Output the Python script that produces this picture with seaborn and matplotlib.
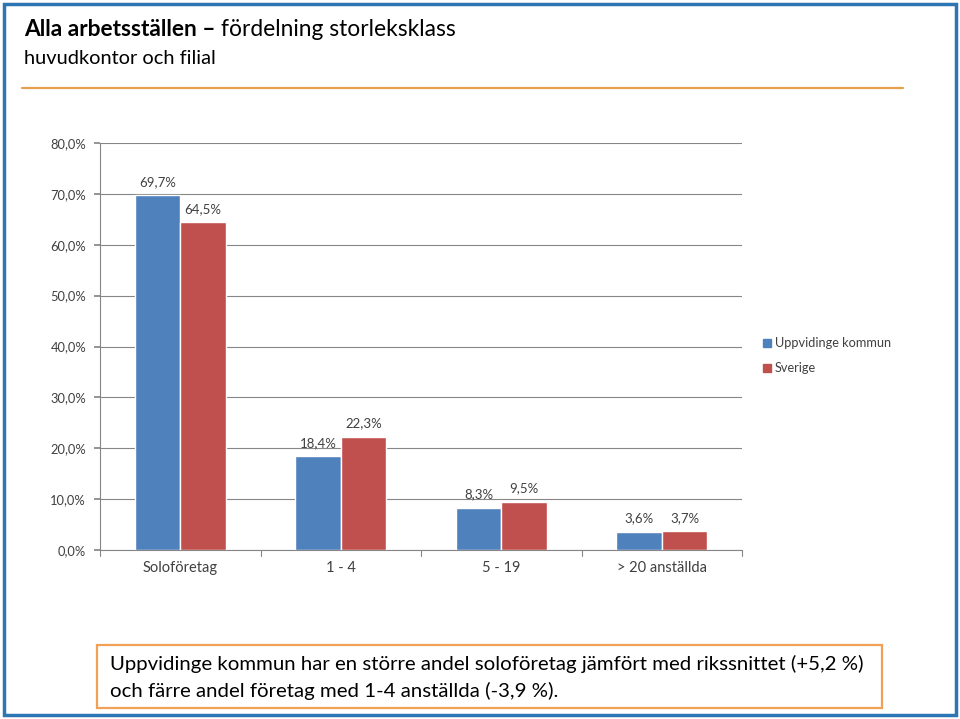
import matplotlib
matplotlib.use("Agg")
import matplotlib.pyplot as plt
import seaborn as sns
import pandas as pd
from matplotlib.patches import Rectangle
from matplotlib.lines import Line2D

categories = ["Soloföretag", "1 - 4", "5 - 19", "> 20 anställda"]
series_names = ["Uppvidinge kommun", "Sverige"]
uppvidinge = [69.7, 18.4, 8.3, 3.6]
sverige = [64.5, 22.3, 9.5, 3.7]
yticks = [0, 10, 20, 30, 40, 50, 60, 70, 80]
colors = ["#4F81BD", "#C0504D"]

df = pd.DataFrame({
    "kategori": categories * 2,
    "serie": [series_names[0]] * 4 + [series_names[1]] * 4,
    "andel": uppvidinge + sverige,
})

sns.set_theme(style="white")
plt.rcParams["font.family"] = ["Lato", "DejaVu Sans"]

fig = plt.figure(figsize=(9.6, 7.19), dpi=100)
W, H = 960, 719
ax = fig.add_axes([100 / W, 1 - 550 / H, 642 / W, 407 / H])

sns.barplot(data=df, x="kategori", y="andel", hue="serie", palette=colors,
            width=0.567, saturation=1, ax=ax, legend=False, zorder=3)

ax.set_ylim(0, 80)
ax.set_xlim(-0.5, 3.5)
ax.set_yticks(yticks)
ax.set_yticklabels([f"{v:.1f}%".replace(".", ",") for v in yticks],
                   fontsize=9.3, color="#404040")
ax.set_xlabel("")
ax.set_ylabel("")
ax.tick_params(axis="x", length=0, labelsize=10.5, labelcolor="#404040", pad=8)
ax.tick_params(axis="y", length=4, left=True, color="#868686", pad=6)
ax.yaxis.grid(True, color="#868686", linewidth=0.8, zorder=0)
for s in ["top", "right"]:
    ax.spines[s].set_visible(False)
ax.spines["left"].set_color("#868686")
ax.spines["bottom"].set_color("#868686")
ax.spines["left"].set_linewidth(0.8)
ax.spines["bottom"].set_linewidth(0.8)
for xb in [-0.5, 0.5, 1.5, 2.5, 3.5]:
    ax.plot([xb, xb], [0, -1.2], color="#868686", lw=0.8, clip_on=False)

for cont in ax.containers:
    for bar in cont:
        h = bar.get_height()
        ax.text(bar.get_x() + bar.get_width() / 2, h + 1.4,
                f"{h:.1f}%".replace(".", ","), ha="center", va="bottom",
                fontsize=9.5, color="#404040")

# legend
for i, name in enumerate(series_names):
    y = 343 + i * 25
    fig.patches.append(Rectangle((763 / W, 1 - (y + 4) / H), 8 / W, 8 / H,
                                 transform=fig.transFigure, color=colors[i]))
    fig.text(775 / W, 1 - y / H, name, fontsize=9.2, color="#404040",
             va="center", ha="left")

# title
t1 = fig.text(24 / W, 1 - 30 / H, "Alla arbetsställen – ", fontsize=16.4, fontweight="bold",
              va="center", ha="left", color="black")
fig.canvas.draw()
bb = t1.get_window_extent(renderer=fig.canvas.get_renderer())
fig.text(bb.x1 / W, 1 - 30 / H, "fördelning storleksklass", fontsize=16.4,
         va="center", ha="left", color="black")
fig.text(24 / W, 1 - 59 / H, "huvudkontor och filial", fontsize=14.4,
         va="center", ha="left", color="black")
fig.lines.append(Line2D([22 / W, 903 / W], [1 - 88 / H, 1 - 88 / H],
                        transform=fig.transFigure, color="#E8A04F", lw=1.6))

# outer border
fig.patches.append(Rectangle((4 / W, 4 / H), 952 / W, 711 / H, transform=fig.transFigure,
                             fill=False, edgecolor="#2E75B6", lw=2.5))

# bottom box
fig.patches.append(Rectangle((97 / W, 1 - 708 / H), 785 / W, 63 / H,
                             transform=fig.transFigure, fill=False,
                             edgecolor="#F2A055", lw=1.6))
fig.text(110 / W, 1 - 664 / H,
         "Uppvidinge kommun har en större andel soloföretag jämfört med rikssnittet (+5,2 %)",
         fontsize=14.65, va="center", ha="left", color="black")
fig.text(110 / W, 1 - 691 / H, "och färre andel företag med 1-4 anställda (-3,9 %).",
         fontsize=14.65, va="center", ha="left", color="black")

fig.savefig("out.png", dpi=100)
